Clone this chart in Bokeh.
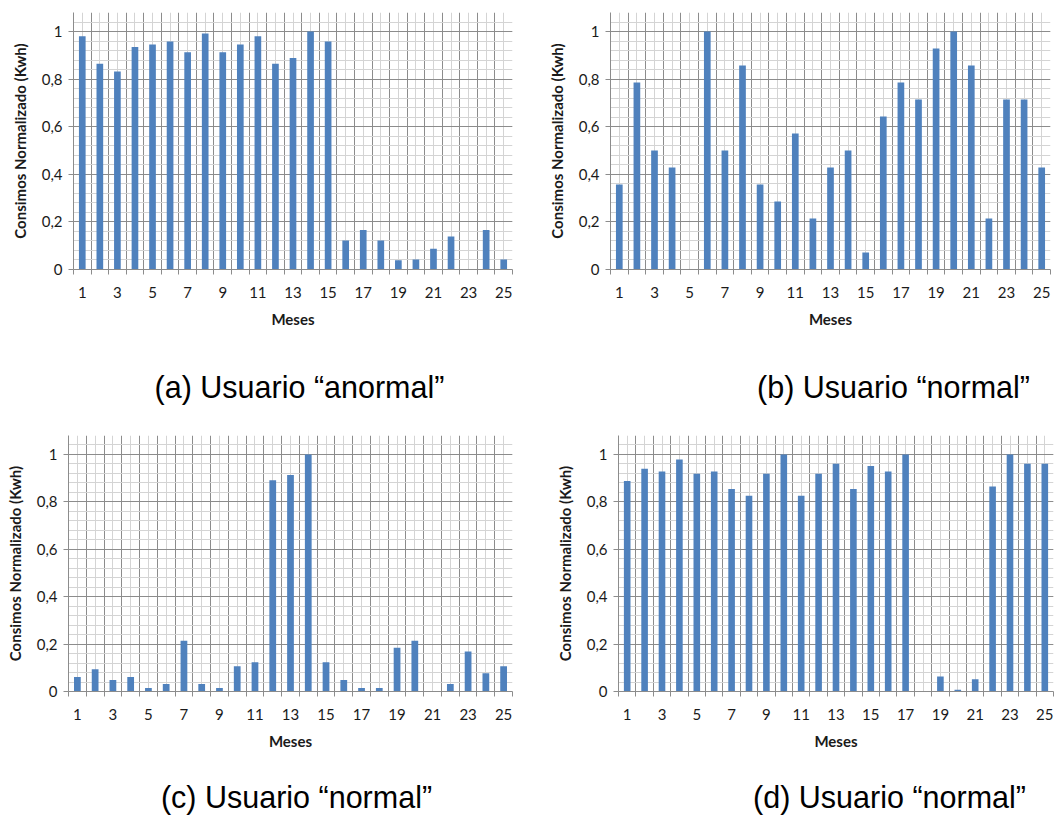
from bokeh.plotting import figure
from bokeh.layouts import column, row
from bokeh.models import FixedTicker, Label, Range1d, ColumnDataSource
from bokeh.embed import file_html
from bokeh.resources import INLINE

meses = list(range(1, 26))
x_tick_labels = [1, 3, 5, 7, 9, 11, 13, 15, 17, 19, 21, 23, 25]
y_ticks = [0, 0.2, 0.4, 0.6, 0.8, 1.0]
y_tick_labels = ["0", "0,2", "0,4", "0,6", "0,8", "1"]

usuario_a = [0.98, 0.865, 0.832, 0.935, 0.946, 0.958, 0.913, 0.992, 0.913, 0.946,
             0.98, 0.865, 0.889, 1.0, 0.958, 0.122, 0.166, 0.122, 0.039, 0.042,
             0.087, 0.139, 0.0, 0.166, 0.042]
usuario_b = [0.357, 0.786, 0.5, 0.429, 0.0, 1.0, 0.5, 0.857, 0.357, 0.286,
             0.571, 0.214, 0.429, 0.5, 0.071, 0.643, 0.786, 0.714, 0.929, 1.0,
             0.857, 0.214, 0.714, 0.714, 0.429]
usuario_c = [0.061, 0.094, 0.048, 0.061, 0.015, 0.032, 0.214, 0.032, 0.015, 0.106,
             0.123, 0.891, 0.913, 1.0, 0.123, 0.048, 0.015, 0.015, 0.185, 0.214,
             0.0, 0.032, 0.169, 0.077, 0.106]
usuario_d = [0.888, 0.94, 0.928, 0.979, 0.919, 0.928, 0.854, 0.826, 0.919, 1.0,
             0.826, 0.919, 0.961, 0.854, 0.951, 0.928, 1.0, 0.0, 0.063, 0.007,
             0.052, 0.865, 1.0, 0.961, 0.961]

captions = ["(a) Usuario \u201canormal\u201d", "(b) Usuario \u201cnormal\u201d",
            "(c) Usuario \u201cnormal\u201d", "(d) Usuario \u201cnormal\u201d"]
y_title = "Consimos Normalizado (Kwh)"
x_title = "Meses"

BAR = "#4F81BD"
MAJOR = "#8C8C8C"
MINOR = "#D4D4D4"
TXT = "#1a1a1a"
FONT = "Lato"


def panel(values, w, h, bl, br, bt, bb):
    p = figure(width=w, height=h, output_backend="svg", toolbar_location=None,
               x_range=Range1d(0.5, 25.5), y_range=Range1d(0, 1.08),
               min_border_left=bl, min_border_right=br, min_border_top=bt,
               min_border_bottom=bb, outline_line_color=None,
               background_fill_color="white", border_fill_color="white")
    src = ColumnDataSource(dict(x=meses, top=values))
    p.vbar(x="x", top="top", bottom=0, width=0.38, source=src,
           fill_color=BAR, line_color=None)

    bounds = [i + 0.5 for i in range(0, 26)]
    centers = list(range(1, 26))
    p.xaxis.ticker = FixedTicker(ticks=x_tick_labels, minor_ticks=bounds)
    p.xgrid.ticker = FixedTicker(ticks=bounds, minor_ticks=centers)
    minor_y = [round(i * 0.04, 2) for i in range(1, 27)]
    p.yaxis.ticker = FixedTicker(ticks=y_ticks, minor_ticks=minor_y)
    p.ygrid.ticker = FixedTicker(ticks=y_ticks, minor_ticks=minor_y)
    p.yaxis.major_label_overrides = {t: l for t, l in zip(y_ticks, y_tick_labels)}

    for g in (p.xgrid, p.ygrid):
        g.grid_line_color = MAJOR
        g.grid_line_width = 1
        g.minor_grid_line_color = MINOR
        g.minor_grid_line_width = 1

    ax = p.xaxis[0]
    ax.major_tick_out = 0
    ax.major_tick_in = 0
    ax.minor_tick_out = 5
    ax.minor_tick_in = 0
    ax.major_label_standoff = 12
    ax.axis_label = x_title
    ax.axis_label_standoff = 9

    ay = p.yaxis[0]
    ay.major_tick_out = 5
    ay.major_tick_in = 0
    ay.minor_tick_out = 0
    ay.minor_tick_in = 0
    ay.major_label_standoff = 6
    ay.axis_label = y_title
    ay.axis_label_standoff = 10

    for a in (ax, ay):
        a.axis_line_color = MAJOR
        a.major_tick_line_color = MAJOR
        a.minor_tick_line_color = MAJOR
        a.major_label_text_font = FONT
        a.major_label_text_font_size = "15px"
        a.major_label_text_color = TXT
        a.axis_label_text_font = FONT
        a.axis_label_text_font_size = "15px"
        a.axis_label_text_font_style = "bold"
        a.axis_label_text_color = TXT
    return p


def caption_fig(text, w, h, cx, cy_from_top):
    c = figure(width=w, height=h, output_backend="svg", toolbar_location=None,
               x_range=Range1d(0, w), y_range=Range1d(0, h),
               x_axis_location=None, y_axis_location=None,
               min_border=0, min_border_left=0, min_border_right=0,
               min_border_top=0, min_border_bottom=0,
               outline_line_color=None, background_fill_color="white",
               border_fill_color="white")
    c.grid.visible = False
    c.add_layout(Label(x=cx, y=h - cy_from_top, text=text,
                       text_font="Liberation Sans", text_font_size="30.5px",
                       text_color="black", text_align="center",
                       text_baseline="middle"))
    return c


pa = panel(usuario_a, 530, 340, 73, 18, 9, 71)
pb = panel(usuario_b, 533, 340, 80, 13, 12, 68)
pc = panel(usuario_c, 530, 345, 68, 18, 23, 62)
pd = panel(usuario_d, 533, 345, 88, 10, 25, 64)

ca = caption_fig(captions[0], 530, 70, 299, 46)
cb = caption_fig(captions[1], 533, 70, 363, 46)
cc = caption_fig(captions[2], 530, 66, 296, 41)
cd = caption_fig(captions[3], 533, 66, 359, 41)

layout = column(row(pa, pb), row(ca, cb), row(pc, pd), row(cc, cd))
open("out.html", "w").write(file_html(layout, INLINE))
